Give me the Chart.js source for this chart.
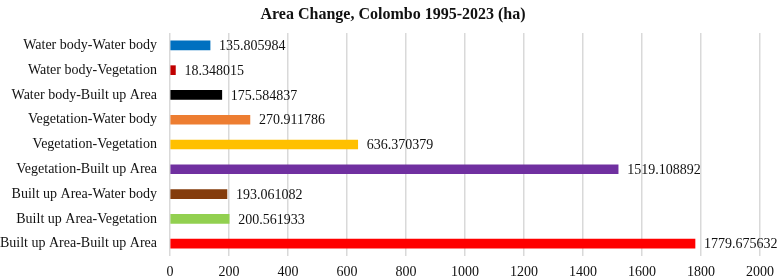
<!DOCTYPE html>
<html>
<head>
<meta charset="utf-8">
<script src="https://cdn.jsdelivr.net/npm/chart.js@4"></script>
<style>
  html, body { margin: 0; padding: 0; background: #fff; }
  #wrap { width: 782px; height: 278px; }
</style>
</head>
<body>
<div id="wrap"><canvas id="myChart"></canvas></div>
<script>
// categories, top to bottom
var categories = [
  "Water body-Water body",
  "Water body-Vegetation",
  "Water body-Built up Area",
  "Vegetation-Water body",
  "Vegetation-Vegetation",
  "Vegetation-Built up Area",
  "Built up Area-Water body",
  "Built up Area-Vegetation",
  "Built up Area-Built up Area"
];
// area (ha)
var areaValues = [135.805984, 18.348015, 175.584837, 270.911786, 636.370379, 1519.108892, 193.061082, 200.561933, 1779.675632];
// value text shown next to each bar
var valueLabels = ["135.805984", "18.348015", "175.584837", "270.911786", "636.370379", "1519.108892", "193.061082", "200.561933", "1779.675632"];
var barColors = ["#0070C0", "#C00000", "#000000", "#ED7D31", "#FFC000", "#7030A0", "#843C0C", "#92D050", "#FF0000"];
var xTicks = [0, 200, 400, 600, 800, 1000, 1200, 1400, 1600, 1800, 2000];
var chartTitle = "Area Change, Colombo 1995-2023 (ha)";

var serif = "'Liberation Serif', 'Times New Roman', serif";
var textColor = "#111";

// draws the value at the end of each bar
var valueLabelPlugin = {
  id: "valueLabels",
  afterDatasetsDraw: function (chart) {
    var ctx = chart.ctx;
    var meta = chart.getDatasetMeta(0);
    ctx.save();
    ctx.font = "14px " + serif;
    ctx.fillStyle = textColor;
    ctx.textAlign = "left";
    ctx.textBaseline = "middle";
    meta.data.forEach(function (bar, i) {
      ctx.fillText(valueLabels[i], bar.x + 9, bar.y + 1);
    });
    ctx.restore();
  }
};

// title centred on the whole picture (built-in one centres on padded box)
var titlePlugin = {
  id: "pageTitle",
  afterDraw: function (chart) {
    var ctx = chart.ctx;
    ctx.save();
    ctx.font = "bold 16px " + serif;
    ctx.fillStyle = textColor;
    ctx.textAlign = "center";
    ctx.textBaseline = "middle";
    ctx.fillText(chartTitle, chart.width / 2 + 2, 15);
    ctx.restore();
  }
};

var ctx = document.getElementById("myChart").getContext("2d");
new Chart(ctx, {
  type: "bar",
  data: {
    labels: categories,
    datasets: [{
      data: areaValues,
      backgroundColor: barColors,
      barThickness: 9
    }]
  },
  options: {
    indexAxis: "y",
    responsive: true,
    maintainAspectRatio: false,
    animation: false,
    layout: { padding: { left: 0, right: 18, top: 33, bottom: 0 } },
    scales: {
      x: {
        min: 0,
        max: 2000,
        afterBuildTicks: function (scale) {
          scale.ticks = xTicks.map(function (v) { return { value: v }; });
        },
        afterFit: function (scale) { scale.height = 22; },
        grid: { color: "#d9d9d9", lineWidth: 1.5, drawTicks: false },
        border: { display: false },
        ticks: {
          padding: 8,
          color: textColor,
          font: { family: serif, size: 14 },
          maxRotation: 0,
          callback: function (value) { return String(value); } // no thousands comma
        }
      },
      y: {
        afterFit: function (scale) { scale.width = 170; },
        grid: { display: false, drawTicks: false },
        border: { display: false },
        ticks: { padding: 13, color: textColor, font: { family: serif, size: 14 } }
      }
    },
    plugins: {
      legend: { display: false },
      tooltip: { enabled: false },
      title: { display: false }
    }
  },
  plugins: [valueLabelPlugin, titlePlugin]
});
</script>
</body>
</html>
